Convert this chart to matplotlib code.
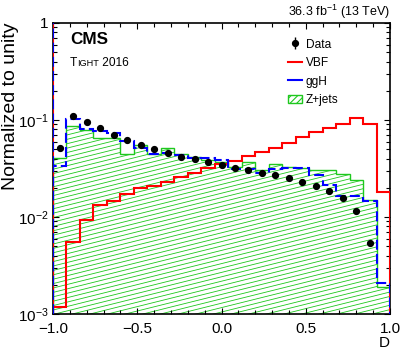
import numpy as np
import matplotlib
matplotlib.use('Agg')
import matplotlib.pyplot as plt
from matplotlib.patches import Polygon, Patch
from matplotlib.lines import Line2D
from matplotlib.collections import LineCollection
from matplotlib.legend_handler import HandlerTuple
from matplotlib.ticker import FixedLocator, FixedFormatter, MultipleLocator, FuncFormatter, LogLocator, NullFormatter

plt.rcParams['font.family'] = ['Liberation Sans', 'DejaVu Sans']
plt.rcParams['mathtext.fontset'] = 'custom'
plt.rcParams['mathtext.rm'] = 'Liberation Sans'
plt.rcParams['mathtext.it'] = 'Liberation Sans:italic'
plt.rcParams['mathtext.bf'] = 'Liberation Sans:bold'
plt.rcParams['hatch.linewidth'] = 0.8

# ---------------- data ----------------
bin_edges = np.linspace(-1.0, 1.0, 26)

vbf = [0.00119, 0.00548, 0.00931, 0.0133, 0.0147, 0.0171, 0.0198, 0.0210, 0.0227,
       0.0260, 0.0282, 0.0320, 0.0352, 0.0380, 0.0421, 0.0473, 0.0514, 0.0583,
       0.0663, 0.0747, 0.0833, 0.0910, 0.104, 0.0910, 0.0182]

ggh = [0.0336, 0.102, 0.0802, 0.0776, 0.0729, 0.0608, 0.0514, 0.0451, 0.0462,
       0.0436, 0.0410, 0.0408, 0.0387, 0.0309, 0.0311, 0.0284, 0.0311, 0.0320,
       0.0320, 0.0274, 0.0214, 0.0166, 0.0166, 0.0146, 0.00207]

zjets = [0.0406, 0.0861, 0.0788, 0.0652, 0.0652, 0.0451, 0.0546, 0.0441, 0.0514,
         0.0451, 0.0419, 0.0387, 0.0366, 0.0330, 0.0372, 0.0305, 0.0356, 0.0330,
         0.0320, 0.0305, 0.0305, 0.0277, 0.0241, 0.0150, 0.00191]

data = [0.0520, 0.109, 0.0960, 0.0821, 0.0707, 0.0622, 0.0556, 0.0499, 0.0457,
        0.0418, 0.0393, 0.0372, 0.0344, 0.0322, 0.0305, 0.0284, 0.0271, 0.0251,
        0.0231, 0.0210, 0.0185, 0.0156, 0.0116, 0.00543]

ytick_vals = [1e-3, 1e-2, 1e-1, 1.0]
ytick_labels = [r'$10^{-3}$', r'$10^{-2}$', r'$10^{-1}$', '1']

RED = '#ff0000'
BLUE = '#0000ff'
GREEN = '#1ec81e'

W, H = 407, 358
fig = plt.figure(figsize=(W / 100, H / 100), dpi=100)
L, R, T, B = 53, 390, 23, 314
ax = fig.add_axes([L / W, (H - B) / H, (R - L) / W, (B - T) / H])
ax.set_yscale('log')
ax.set_xlim(-1, 1)
ax.set_ylim(1e-3, 1)

ybot = 1e-3

# ---- Z+jets hatched area ----
edges = bin_edges
verts = [(edges[0], ybot)]
for i, v in enumerate(zjets):
    verts.append((edges[i], v))
    verts.append((edges[i + 1], v))
verts.append((edges[-1], ybot))
poly = Polygon(verts, closed=True, facecolor='none', edgecolor='none',
               transform=ax.transData)
ax.add_patch(poly)
w_px, h_px = R - L, B - T
ang = 14.0
s = np.tan(np.radians(ang)) * w_px / h_px
d = 4.4 / h_px
cs = np.arange(-s - d, 1 + d, d)
segs = [[(0, c), (1, c + s)] for c in cs]
lc = LineCollection(segs, colors=GREEN, linewidths=0.6, transform=ax.transAxes, zorder=1)
ax.add_collection(lc, autolim=False)
lc.set_clip_path(poly)

ax.stairs(zjets, edges, baseline=ybot, color=GREEN, lw=1.0, zorder=2)

# ---- VBF ----
ax.stairs(vbf, edges, baseline=ybot, color=RED, lw=1.5, zorder=3)
ax.vlines(-1, ybot, 1, color=RED, lw=1.5, zorder=3)

# ---- ggH ----
ax.stairs(ggh, edges, baseline=ybot, color=BLUE, lw=1.5, zorder=4,
          linestyle=(0, (4.8, 2.0)))
ax.vlines(-1, ggh[0], 1, color=BLUE, lw=1.5, zorder=4, linestyle=(0, (4.8, 2.0)))

# ---- Data ----
centers = 0.5 * (edges[:-1] + edges[1:])
ax.plot(centers[:len(data)], data, 'o', color='black', ms=4.2, zorder=5)

# ---- axes style ----
for sp in ax.spines.values():
    sp.set_linewidth(1.2)
ax.xaxis.set_major_locator(MultipleLocator(0.5))
ax.xaxis.set_minor_locator(MultipleLocator(0.1))
ax.xaxis.set_major_formatter(FuncFormatter(lambda x, p: f"{x:.1f}".replace('-', '\u2212')))
ax.yaxis.set_major_locator(FixedLocator(ytick_vals))
ax.yaxis.set_major_formatter(FixedFormatter(ytick_labels))
ax.yaxis.set_minor_locator(LogLocator(base=10, subs=np.arange(2, 10)))
ax.yaxis.set_minor_formatter(NullFormatter())
ax.tick_params(which='both', direction='in', top=True, right=True, width=0.8)
ax.tick_params(which='major', length=4.5, labelsize=11)
ax.tick_params(which='minor', length=2.6)
ax.tick_params(axis='x', which='major', pad=6)
ax.tick_params(axis='y', which='major', pad=3)

# ---- texts ----
fig.text(R / W, (H - 11.5) / H, r'36.3 fb$^{-1}$ (13 TeV)', ha='right', va='center', fontsize=9)
fig.text(70 / W, (H - 40) / H, 'CMS', ha='left', va='center', fontsize=12.3, fontweight='bold')
t1 = fig.text(70 / W, (H - 63) / H, 'T', ha='left', va='center', fontsize=8.6)
fig.canvas.draw()
bb = t1.get_window_extent()
t2 = fig.text(bb.x1 / (W), (H - 63) / H, 'IGHT', ha='left', va='center', fontsize=6.6)
fig.canvas.draw()
bb2 = t2.get_window_extent()
fig.text(bb2.x1 / W, (H - 63) / H, ' 2016', ha='left', va='center', fontsize=8.6)

fig.text(10.5 / W, (H - 22) / H, 'Normalized to unity', rotation=90, ha='center', va='top', fontsize=14)
fig.text(390 / W, (H - 343) / H, 'D', ha='right', va='center', fontsize=11)

# ---- legend ----
h_data = (Line2D([], [], marker='|', ms=9, mew=1.0, color='black', linestyle='None'),
          Line2D([], [], marker='o', ms=4.2, color='black', linestyle='None'))
h_vbf = Line2D([], [], color=RED, lw=1.5)
h_ggh = Line2D([], [], color=BLUE, lw=1.5)
h_z = Patch(facecolor='white', edgecolor=GREEN, hatch='/////', lw=1.0)
leg = ax.legend([h_data, h_vbf, h_ggh, h_z], ['Data', 'VBF', 'ggH', 'Z+jets'],
                handler_map={tuple: HandlerTuple(ndivide=1, pad=0)},
                loc='upper left', bbox_to_anchor=(288 / W, (H - 38.5) / H),
                bbox_transform=fig.transFigure, frameon=False, fontsize=8.6,
                handlelength=1.15, handletextpad=0.35, labelspacing=0.55,
                borderpad=0, borderaxespad=0)

fig.savefig('out.png', dpi=100)
